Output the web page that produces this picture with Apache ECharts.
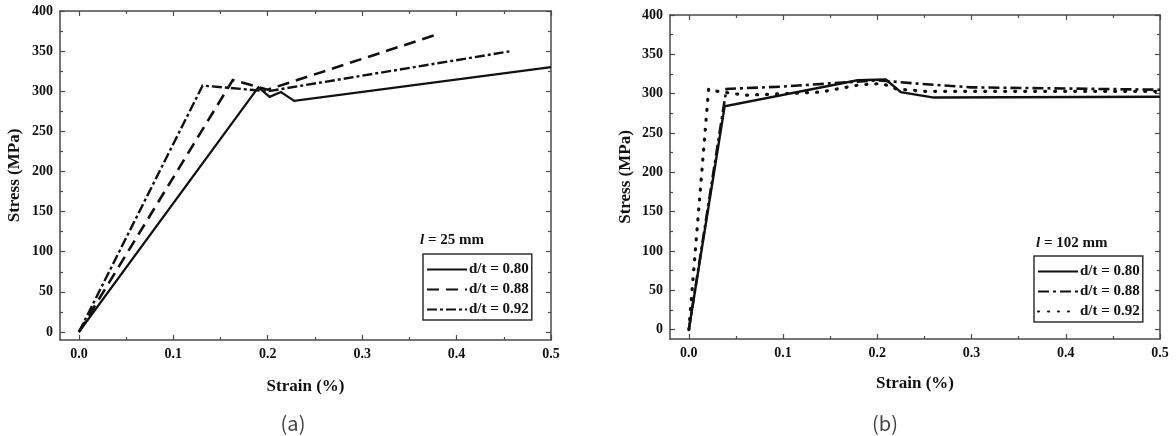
<!DOCTYPE html>
<html>
<head>
<meta charset="utf-8">
<script src="https://cdn.jsdelivr.net/npm/echarts@6/dist/echarts.min.js"></script>
<style>
  html, body { margin: 0; padding: 0; background: #fff; }
  #chart { width: 1176px; height: 436px; }
</style>
</head>
<body>
<div id="chart"></div>
<script>
// (a) l = 25 mm
const strainA080 = [0, 0.19, 0.202, 0.214, 0.228, 0.5]
const stressA080 = [0, 305, 293, 299, 288, 330]
const strainA088 = [0, 0.163, 0.2, 0.38]
const stressA088 = [0, 314, 302, 371]
const strainA092 = [0, 0.131, 0.2, 0.458]
const stressA092 = [0, 307, 300, 350]

// (b) l = 102 mm
const strainB080 = [0, 0.038, 0.179, 0.209, 0.225, 0.26, 0.5]
const stressB080 = [0, 284, 317, 318, 302, 295, 296]
const strainB088 = [0, 0.037, 0.04, 0.1, 0.2, 0.24, 0.3, 0.5]
const stressB088 = [0, 284, 306, 309, 317, 313, 308, 305]
const strainB092 = [0, 0.021, 0.03, 0.06, 0.14, 0.18, 0.205, 0.22, 0.25, 0.5]
const stressB092 = [0, 306, 303, 298, 302, 311, 313, 306, 303, 303]

const seriesNames = ['d/t = 0.80', 'd/t = 0.88', 'd/t = 0.92']
const xMajor = [0, 0.1, 0.2, 0.3, 0.4, 0.5]
const xMinor = [0.05, 0.15, 0.25, 0.35, 0.45]
const yMajor = [0, 50, 100, 150, 200, 250, 300, 350, 400]
const yMinor = [25, 75, 125, 175, 225, 275, 325, 375]

const serif = '"Liberation Serif", "Times New Roman", serif'
const frame = '#4a4a4a'
const ink = '#111'

function pairs(xs, ys) {
  return xs.map((x, i) => [x, ys[i]])
}

// one axis per side for the major ticks (with line and labels), one more for the minor ticks
function axisSet(dim, grid, min, max, major, minor, name, nameGap, fmt) {
  const sides = dim === 'x' ? ['bottom', 'top'] : ['left', 'right']
  const out = []
  sides.forEach((pos, s) => {
    [major, minor].forEach((vals, m) => {
      const main = s === 0 && m === 0
      out.push({
        type: 'value',
        gridIndex: grid,
        position: pos,
        min: min,
        max: max,
        name: main ? name : '',
        nameLocation: 'middle',
        nameGap: nameGap,
        nameTextStyle: { fontFamily: serif, fontWeight: 'bold', fontSize: 17, color: ink },
        axisLine: { show: m === 0, onZero: false, lineStyle: { color: frame, width: 1.5 } },
        axisTick: {
          show: true, inside: true, length: m === 0 ? 5 : 3, customValues: vals,
          lineStyle: { color: frame, width: 1.2 }
        },
        axisLabel: {
          show: main, customValues: major, margin: 7,
          fontFamily: serif, fontWeight: 'bold', fontSize: 14, color: ink,
          formatter: fmt
        },
        splitLine: { show: false }
      })
    })
  })
  return out
}

const xFmt = v => v.toFixed(1)
const yFmt = v => String(v)

const xAxes = [].concat(
  axisSet('x', 0, -0.02, 0.5, xMajor, xMinor, 'Strain (%)', 38, xFmt),
  axisSet('x', 1, -0.02, 0.5, xMajor, xMinor, 'Strain (%)', 36, xFmt)
)
const yAxes = [].concat(
  axisSet('y', 0, -10, 400, yMajor, yMinor, 'Stress (MPa)', 37, yFmt),
  axisSet('y', 1, -12, 400, yMajor, yMinor, 'Stress (MPa)', 36, yFmt)
)

const styles = [
  { type: 'solid', width: 2.2, cap: 'butt' },
  { type: [12, 7], width: 2.6, cap: 'butt' },
  { type: [10, 3, 3, 3], width: 2.4, cap: 'butt' }
]
const stylesB = [
  { type: 'solid', width: 2.4, cap: 'butt' },
  { type: [11, 4, 3, 4], width: 2.6, cap: 'butt' },
  { type: [1, 9], width: 3.2, cap: 'round' }
]

function line(name, grid, data, st) {
  return {
    name: name,
    type: 'line',
    xAxisIndex: grid * 4,
    yAxisIndex: grid * 4,
    data: data,
    symbol: 'circle',
    symbolSize: 3,
    showSymbol: false,
    animation: false,
    itemStyle: { color: ink },
    lineStyle: { color: ink, width: st.width, type: st.type, cap: st.cap, join: 'miter' }
  }
}

const namesB = seriesNames.map(n => 'b:' + n)

const series = [
  line(seriesNames[0], 0, pairs(strainA080, stressA080), styles[0]),
  line(seriesNames[1], 0, pairs(strainA088, stressA088), styles[1]),
  line(seriesNames[2], 0, pairs(strainA092, stressA092), styles[2]),
  line(namesB[0], 1, pairs(strainB080, stressB080), stylesB[0]),
  line(namesB[1], 1, pairs(strainB088, stressB088), stylesB[1]),
  line(namesB[2], 1, pairs(strainB092, stressB092), stylesB[2])
]

function legendBox(names, left, top) {
  return {
    data: names,
    orient: 'vertical',
    left: left,
    top: top,
    padding: [8, 3, 3, 3],
    itemWidth: 40,
    itemHeight: 10,
    itemGap: 5,
    borderColor: '#333',
    borderWidth: 1.5,
    selectedMode: false,
    itemStyle: { opacity: 0 },
    formatter: n => n.replace('b:', ''),
    textStyle: { fontFamily: serif, fontWeight: 'bold', fontSize: 15, color: ink, padding: [0, 0, 0, -3] }
  }
}

function note(text, left, top) {
  return {
    type: 'text',
    left: left,
    top: top,
    style: {
      text: text,
      fontFamily: serif,
      fontWeight: 'bold',
      fontSize: 15,
      fill: ink,
      rich: { i: { fontFamily: serif, fontStyle: 'italic', fontWeight: 'bold', fontSize: 15 } }
    }
  }
}

function caption(text, cx) {
  return {
    type: 'text',
    x: cx,
    y: 423,
    style: {
      text: text,
      fontFamily: '"Noto Sans CJK KR", "Noto Sans", sans-serif',
      fontSize: 20,
      fill: '#444',
      align: 'center',
      verticalAlign: 'middle'
    }
  }
}

const chart = echarts.init(document.getElementById('chart'), null, { renderer: 'canvas' })
chart.setOption({
  backgroundColor: '#fff',
  animation: false,
  grid: [
    { left: 60, top: 11, width: 491, height: 329 },
    { left: 670, top: 15, width: 490, height: 324 }
  ],
  xAxis: xAxes,
  yAxis: yAxes,
  legend: [legendBox(seriesNames, 423, 254), legendBox(namesB, 1034, 256)],
  graphic: [
    note('{i|l} = 25 mm', 420, 233),
    note('{i|l} = 102 mm', 1036, 236),
    caption('(a)', 293),
    caption('(b)', 885)
  ],
  series: series
})
</script>
</body>
</html>
